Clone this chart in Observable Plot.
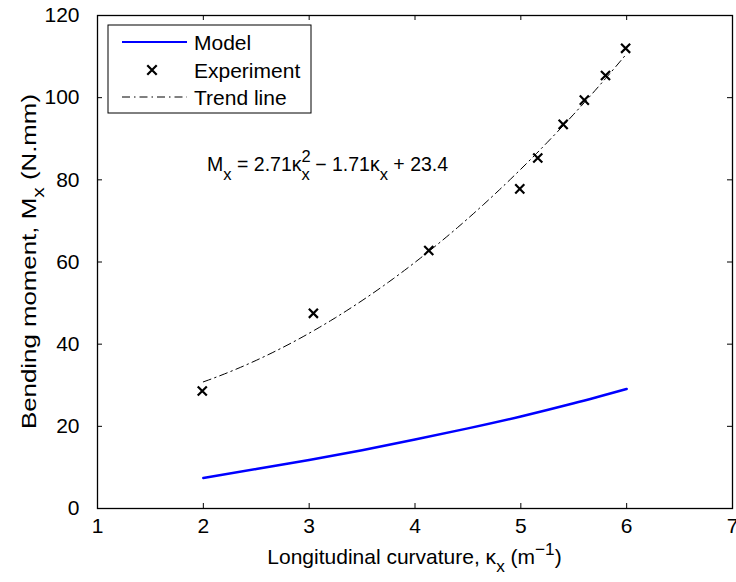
<!DOCTYPE html>
<html>
<head>
<meta charset="utf-8">
<script src="https://cdn.jsdelivr.net/npm/d3@7"></script>
<script src="https://cdn.jsdelivr.net/npm/@observablehq/plot@0.6"></script>
<style>
  body { margin: 0; background: #fff; }
  #chart svg { font-family: "Liberation Sans", Arial, Helvetica, sans-serif; }
</style>
</head>
<body>
<div id="chart"></div>
<script>
// Measured bending moment vs. longitudinal curvature
const experimentK = [1.99, 3.04, 4.13, 4.99, 5.16, 5.40, 5.60, 5.80, 5.99];
const experimentM = [28.6, 47.5, 62.8, 77.8, 85.3, 93.5, 99.4, 105.4, 112.0];

// Model prediction
const modelK = [2.0, 2.5, 3.0, 3.5, 4.0, 4.5, 5.0, 5.5, 6.0];
const modelM = [7.4, 9.6, 11.8, 14.2, 16.8, 19.5, 22.4, 25.6, 29.1];

// Quadratic trend fitted to the experiment: a*k^2 + b*k + c
const trendCoef = [2.71, -1.71, 23.4];
const trendRange = [2, 6];

const xTicks = [1, 2, 3, 4, 5, 6, 7];
const yTicks = [0, 20, 40, 60, 80, 100, 120];
const xDomain = [1, 7];
const yDomain = [0, 120];

const legendItems = ["Model", "Experiment", "Trend line"];

const experiment = experimentK.map((k, i) => ({k, m: experimentM[i]}));
const model = modelK.map((k, i) => ({k, m: modelM[i]}));
const trend = d3.range(0, 81).map(i => {
  const k = trendRange[0] + (trendRange[1] - trendRange[0]) * i / 80;
  return {k, m: trendCoef[0] * k * k + trendCoef[1] * k + trendCoef[2]};
});

const W = 736, H = 582;
const margin = {top: 15, right: 4, bottom: 74, left: 97};
const innerW = W - margin.left - margin.right;
const innerH = H - margin.top - margin.bottom;
const tickPx = 5;
const tx = (xDomain[1] - xDomain[0]) * tickPx / innerW;
const ty = (yDomain[1] - yDomain[0]) * tickPx / innerH;
const fs = 21;
const dashDot = "8,4,1.5,4";

const chart = Plot.plot({
  width: W, height: H,
  marginTop: margin.top, marginRight: margin.right,
  marginBottom: margin.bottom, marginLeft: margin.left,
  x: {domain: xDomain},
  y: {domain: yDomain},
  style: {fontSize: fs + "px", color: "black"},
  marks: [
    Plot.axisX({ticks: xTicks, tickFormat: d3.format("d"), tickSize: 0, tickPadding: 10, label: null, fontSize: fs}),
    Plot.axisY({ticks: yTicks, tickFormat: d3.format("d"), tickSize: 0, tickPadding: 18, label: null, fontSize: fs}),
    // inward ticks on all four sides
    Plot.ruleX(xTicks, {x: d => d, y1: yDomain[0], y2: yDomain[0] + ty, stroke: "black"}),
    Plot.ruleX(xTicks, {x: d => d, y1: yDomain[1], y2: yDomain[1] - ty, stroke: "black"}),
    Plot.ruleY(yTicks, {y: d => d, x1: xDomain[0], x2: xDomain[0] + tx, stroke: "black"}),
    Plot.ruleY(yTicks, {y: d => d, x1: xDomain[1], x2: xDomain[1] - tx, stroke: "black"}),
    Plot.line(trend, {x: "k", y: "m", stroke: "black", strokeWidth: 1, strokeDasharray: dashDot}),
    Plot.line(model, {x: "k", y: "m", stroke: "#0000ff", strokeWidth: 2.5, curve: "monotone-x"}),
    Plot.dot(experiment, {x: "k", y: "m", symbol: "times", r: 4.2, stroke: "black", strokeWidth: 2.2}),
    Plot.frame({stroke: "black", strokeWidth: 1.3})
  ]
});

document.getElementById("chart").appendChild(chart);

const svg = d3.select(chart);
const sx = chart.scale("x"), sy = chart.scale("y");
const sub = fs * 0.82;

// Axis titles with sub/superscripts
const xl = svg.append("text")
  .attr("x", (margin.left + W - margin.right) / 2)
  .attr("y", 564)
  .attr("text-anchor", "middle")
  .attr("font-size", fs);
xl.append("tspan").text("Longitudinal curvature, κ");
xl.append("tspan").attr("font-size", sub).attr("dy", 8).text("x");
xl.append("tspan").attr("dy", -8).text(" (m");
xl.append("tspan").attr("font-size", sub).attr("dy", -9).text("−1");
xl.append("tspan").attr("dy", 9).text(")");

const yl = svg.append("text")
  .attr("transform", `translate(36,${(margin.top + H - margin.bottom) / 2}) rotate(-90)`)
  .attr("text-anchor", "middle")
  .attr("font-size", fs)
  .attr("textLength", 335)
  .attr("lengthAdjust", "spacingAndGlyphs");
yl.append("tspan").text("Bending moment, M");
yl.append("tspan").attr("font-size", sub).attr("dy", 8).text("x");
yl.append("tspan").attr("dy", -8).text(" (N.mm)");

// Fitted equation
const efs = 19.5, esub = 16.5;
const eq = svg.append("text")
  .attr("x", sx.apply(2.04))
  .attr("y", sy.apply(82))
  .attr("text-anchor", "start")
  .attr("font-size", efs);
eq.append("tspan").text("M");
eq.append("tspan").attr("font-size", esub).attr("dy", 9).text("x");
eq.append("tspan").attr("dy", -9).text(` = ${trendCoef[0]}κ`);
eq.append("tspan").attr("font-size", esub).attr("dy", -9).text("2");
eq.append("tspan").attr("font-size", esub).attr("dx", -9.2).attr("dy", 18).text("x");
eq.append("tspan").attr("dy", -9).text(` − ${-trendCoef[1]}κ`);
eq.append("tspan").attr("font-size", esub).attr("dy", 9).text("x");
eq.append("tspan").attr("dy", -9).text(` + ${trendCoef[2]}`);

// Legend box in the upper-left corner of the frame
const lg = svg.append("g").attr("transform", `translate(${margin.left + 11},${margin.top + 10})`);
lg.append("rect").attr("width", 203).attr("height", 88)
  .attr("fill", "white").attr("stroke", "black").attr("stroke-width", 1);
const rowY = [17, 45, 72];
lg.append("line").attr("x1", 14).attr("x2", 79).attr("y1", rowY[0]).attr("y2", rowY[0])
  .attr("stroke", "#0000ff").attr("stroke-width", 2);
lg.append("path").attr("d", d3.symbol(d3.symbolTimes, 60)())
  .attr("transform", `translate(44,${rowY[1]})`)
  .attr("fill", "none").attr("stroke", "black").attr("stroke-width", 2.2);
lg.append("line").attr("x1", 14).attr("x2", 79).attr("y1", rowY[2]).attr("y2", rowY[2])
  .attr("stroke", "black").attr("stroke-width", 1).attr("stroke-dasharray", dashDot);
legendItems.forEach((t, i) => {
  lg.append("text").attr("x", 86).attr("y", rowY[i]).attr("dy", "0.36em")
    .attr("text-anchor", "start")
    .attr("font-size", fs).text(t);
});
</script>
</body>
</html>
